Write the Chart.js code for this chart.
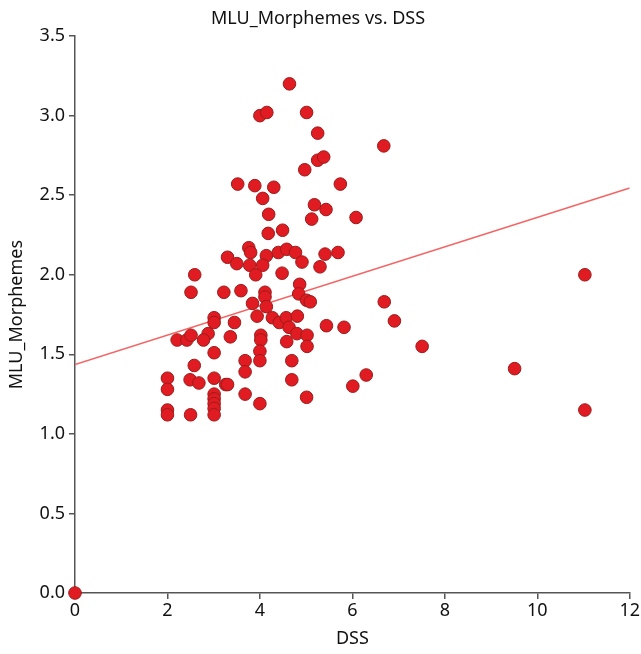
<!DOCTYPE html>
<html>
<head>
<meta charset="utf-8">
<script src="https://cdn.jsdelivr.net/npm/chart.js@4/dist/chart.umd.min.js"></script>
<style>
  html, body { margin: 0; padding: 0; background: #fff; }
  #wrap { width: 641px; height: 654px; }
</style>
</head>
<body>
<div id="wrap"><canvas id="c" width="641" height="654"></canvas></div>
<script>
// ---- data ----
const dssValues = [
  0, 4.64, 4.0, 4.15, 5.01, 5.25, 6.68, 5.25, 5.38, 4.97,
  3.52, 3.89, 4.30, 5.74, 4.06, 5.18, 5.43, 5.12, 6.08, 4.19,
  4.18, 4.49, 3.76, 3.80, 3.30, 4.14, 4.40, 4.58, 4.77, 5.41,
  5.69, 3.50, 3.78, 4.06, 4.91, 5.30, 3.91, 4.48, 2.59, 2.51,
  3.22, 3.59, 4.11, 4.11, 4.14, 3.84, 3.94, 4.86, 4.84, 5.01,
  5.09, 6.69, 6.91, 3.01, 3.01, 3.45, 2.88, 2.78, 3.36, 4.27,
  4.42, 4.57, 4.63, 4.81, 4.80, 5.02, 5.02, 4.58, 5.44, 5.82,
  2.21, 2.42, 2.51, 3.01, 4.02, 4.02, 4.00, 4.00, 3.68, 3.68,
  4.69, 2.58, 2.0, 2.0, 2.49, 2.68, 3.01, 3.26, 3.30, 4.69,
  6.30, 6.01, 3.01, 3.01, 3.01, 3.01, 3.01, 3.68, 4.0, 5.01,
  2.0, 2.0, 2.50, 11.03, 11.03, 9.51, 7.51
];
const mluValues = [
  0, 3.20, 3.00, 3.02, 3.02, 2.89, 2.81, 2.72, 2.74, 2.66,
  2.57, 2.56, 2.55, 2.57, 2.48, 2.44, 2.41, 2.35, 2.36, 2.38,
  2.26, 2.28, 2.17, 2.14, 2.11, 2.12, 2.14, 2.16, 2.14, 2.13,
  2.14, 2.07, 2.06, 2.06, 2.08, 2.05, 2.00, 2.01, 2.00, 1.89,
  1.89, 1.90, 1.89, 1.86, 1.80, 1.82, 1.74, 1.94, 1.88, 1.84,
  1.83, 1.83, 1.71, 1.73, 1.70, 1.70, 1.63, 1.59, 1.61, 1.73,
  1.70, 1.73, 1.67, 1.74, 1.63, 1.62, 1.55, 1.58, 1.68, 1.67,
  1.59, 1.59, 1.62, 1.51, 1.62, 1.59, 1.52, 1.46, 1.46, 1.39,
  1.46, 1.43, 1.35, 1.28, 1.34, 1.32, 1.35, 1.31, 1.31, 1.34,
  1.37, 1.30, 1.25, 1.22, 1.19, 1.16, 1.12, 1.25, 1.19, 1.23,
  1.15, 1.12, 1.12, 2.00, 1.15, 1.41, 1.55
];
// fit line end points
const fitX = [0, 12];
const fitY = [1.436, 2.545];

const xTicks = [0, 2, 4, 6, 8, 10, 12];
const yTicks = [0, 0.5, 1, 1.5, 2, 2.5, 3, 3.5];

const points = dssValues.map((x, i) => ({ x: x, y: mluValues[i] }));
const fitLine = fitX.map((x, i) => ({ x: x, y: fitY[i] }));

const FONT = "'Noto Sans', 'DejaVu Sans', sans-serif";
const AXIS = '#555555';

new Chart(document.getElementById('c').getContext('2d'), {
  type: 'scatter',
  data: {
    datasets: [
      {
        type: 'line',
        data: fitLine,
        borderColor: 'rgba(245, 100, 100, 1)',
        borderWidth: 1.5,
        pointRadius: 0,
        fill: false,
        order: 2
      },
      {
        data: points,
        backgroundColor: '#e01b22',
        borderColor: '#9e1a1a',
        borderWidth: 1,
        pointRadius: 6.3,
        pointHoverRadius: 6.3,
        clip: false,
        order: 1
      }
    ]
  },
  options: {
    responsive: false,
    animation: false,
    layout: { padding: { left: 6, right: 11, top: 0, bottom: 4 } },
    plugins: {
      legend: { display: false },
      tooltip: { enabled: false },
      title: {
        display: true,
        text: 'MLU_Morphemes vs. DSS',
        color: '#111',
        font: { family: FONT, size: 18, weight: 'normal' },
        padding: { top: 8, bottom: 6.5 }
      }
    },
    scales: {
      x: {
        type: 'linear',
        min: 0, max: 12,
        afterBuildTicks: (s) => { s.ticks = xTicks.map(v => ({ value: v })); },
        afterFit: (s) => { s.height = 57; },
        grid: { display: true, drawOnChartArea: false, drawTicks: true, tickLength: 6, color: AXIS, lineWidth: 1.5 },
        border: { display: true, color: AXIS, width: 1.5 },
        ticks: { color: '#111', font: { family: FONT, size: 18 }, padding: 1, maxRotation: 0 },
        title: { display: true, text: 'DSS', color: '#111', font: { family: FONT, size: 18 }, padding: { top: 0, bottom: 0 } }
      },
      y: {
        type: 'linear',
        min: 0, max: 3.5,
        afterBuildTicks: (s) => { s.ticks = yTicks.map(v => ({ value: v })); },
        afterFit: (s) => { s.width = 69; },
        grid: { display: true, drawOnChartArea: false, drawTicks: true, tickLength: 6, color: AXIS, lineWidth: 1.5 },
        border: { display: true, color: AXIS, width: 1.5 },
        ticks: {
          color: '#111', font: { family: FONT, size: 18 }, padding: 4,
          callback: (v) => Number(v).toFixed(1)
        },
        title: { display: true, text: 'MLU_Morphemes', color: '#111', font: { family: FONT, size: 18 }, padding: { top: 0, bottom: 2 } }
      }
    }
  }
});
</script>
</body>
</html>
